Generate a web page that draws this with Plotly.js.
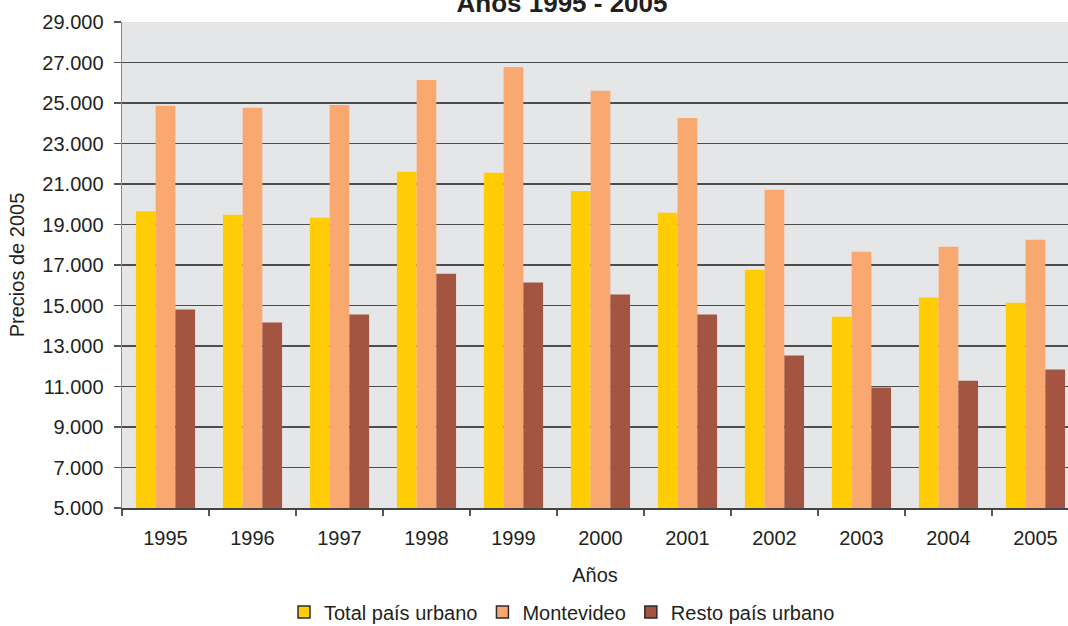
<!DOCTYPE html>
<html>
<head>
<meta charset="utf-8">
<script src="https://cdn.plot.ly/plotly-3.0.1.min.js"></script>
<style>html,body{margin:0;padding:0;overflow:hidden;background:#fff;}</style>
</head>
<body>
<div id="chart" style="width:1068px;height:626px;"></div>
<script>
const years = ['1995','1996','1997','1998','1999','2000','2001','2002','2003','2004','2005'];
const seriesNames = ['Total país urbano','Montevideo','Resto país urbano'];
const totalPais = [19650, 19480, 19330, 21600, 21550, 20660, 19580, 16770, 14450, 15390, 15140];
const montevideo = [24860, 24760, 24900, 26140, 26780, 25600, 24260, 20710, 17660, 17900, 18250];
const restoPais = [14800, 14160, 14550, 16570, 16130, 15540, 14550, 12530, 10950, 11290, 11840];
const colors = ['#FFCC05', '#F9A870', '#A45541'];
const titleText = 'Años 1995 - 2005';
const xTitle = 'Años';
const yTitle = 'Precios de 2005';

const FONT = 'Liberation Sans, Arial, Helvetica, sans-serif';
const values = [totalPais, montevideo, restoPais];
const traces = [];
// visible bars (no outline)
values.forEach((v, i) => {
  traces.push({
    type: 'bar', x: years, y: v, name: seriesNames[i],
    xaxis: 'x', yaxis: 'y',
    showlegend: false,
    marker: {color: colors[i], line: {width: 0}},
    hoverinfo: 'x+y+name'
  });
});
// legend entries with dark outline, drawn on a hidden overlay axis (out of range)
values.forEach((v, i) => {
  traces.push({
    type: 'bar', x: years, y: v, name: seriesNames[i],
    xaxis: 'x', yaxis: 'y2',
    showlegend: true,
    marker: {color: colors[i], line: {width: 1.5, color: '#2b2b2b'}},
    hoverinfo: 'skip'
  });
});

const layout = {
  width: 1068, height: 626,
  margin: {l: 122, r: 0, t: 22, b: 118},
  paper_bgcolor: '#ffffff',
  plot_bgcolor: '#E5E6E8',
  separators: ',.',
  barmode: 'group',
  bargap: 0.32,
  bargroupgap: 0,
  font: {family: FONT, size: 20, color: '#231F20'},
  title: {
    text: titleText,
    font: {family: FONT, size: 26, color: '#231F20', weight: 'bold'},
    xref: 'container', x: 562/1068, xanchor: 'center',
    yref: 'container', y: 1 - 3/626, yanchor: 'middle'
  },
  xaxis: {
    type: 'category',
    range: [-0.5, 10.374],
    tickson: 'boundaries',
    ticks: 'outside', ticklen: 6, tickwidth: 1.2, tickcolor: '#555555',
    showline: true, linecolor: '#444444', linewidth: 1.5,
    showgrid: false,
    ticklabelstandoff: 11,
    tickfont: {family: FONT, size: 20, color: '#231F20'},
    title: {text: xTitle, font: {family: FONT, size: 20, color: '#231F20'}, standoff: 20}
  },
  yaxis: {
    range: [5000, 29000],
    tick0: 5000, dtick: 2000,
    tickformat: ',d',
    ticks: 'outside', ticklen: 7, tickwidth: 1.2, tickcolor: '#555555',
    showline: true, linecolor: '#8a8a8a', linewidth: 1.5,
    showgrid: true, gridcolor: '#4d4d4d', gridwidth: 1.4,
    zeroline: false,
    ticklabelstandoff: 6,
    tickfont: {family: FONT, size: 20, color: '#231F20'},
    title: {text: yTitle, font: {family: FONT, size: 20, color: '#231F20'}, standoff: 12}
  },
  yaxis2: {
    overlaying: 'y', range: [-2, -1], visible: false, showgrid: false, zeroline: false
  },
  showlegend: true,
  legend: {
    orientation: 'h',
    xref: 'paper', x: (562 - 122) / 946, xanchor: 'center',
    yref: 'container', y: 14/626, yanchor: 'middle',
    font: {family: FONT, size: 20, color: '#231F20'},
    bgcolor: 'rgba(0,0,0,0)',
    traceorder: 'normal',
    itemwidth: 30
  }
};

Plotly.newPlot('chart', traces, layout, {displayModeBar: false, staticPlot: true});
</script>
</body>
</html>
